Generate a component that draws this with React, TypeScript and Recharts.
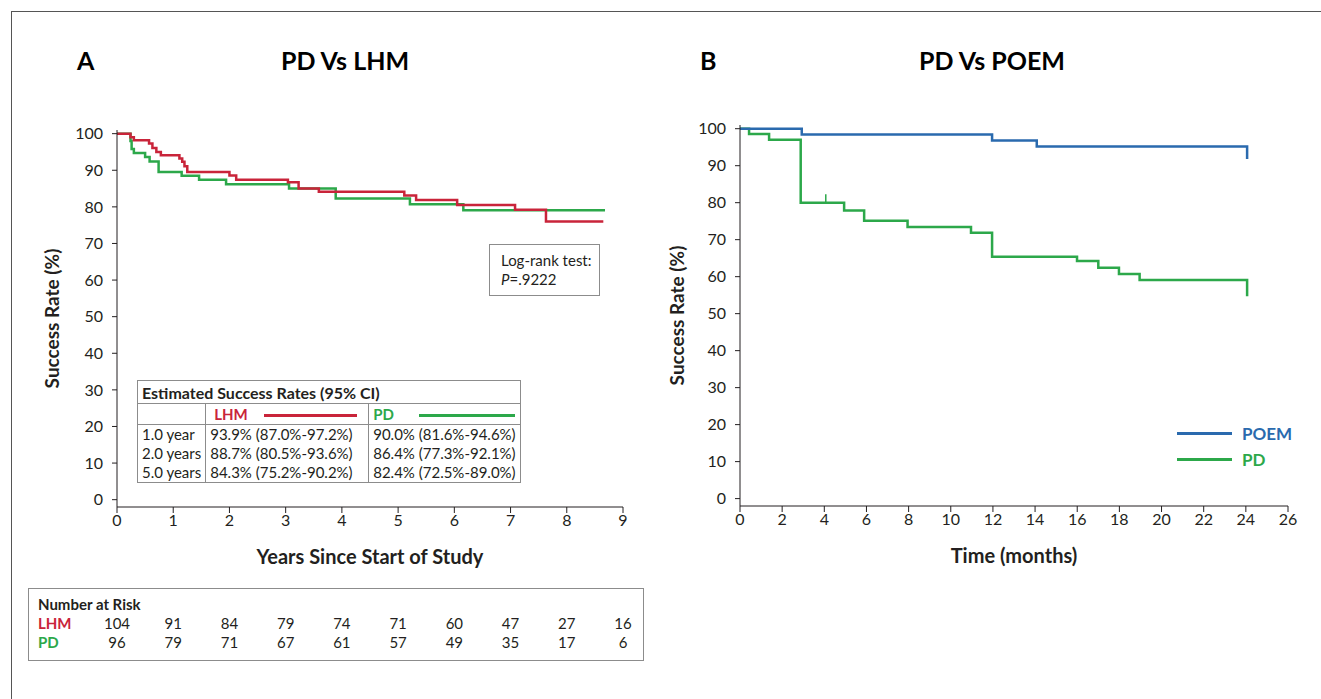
import { LineChart, Line, XAxis, YAxis } from 'recharts';

const RED = '#c9243a';
const GREEN = '#2ca84a';
const BLUE = '#2a6aae';
const INK = '#231f20';
const RULE = '#8c8c8c';
const FONT = 'Lato, "Open Sans", sans-serif';

// Panel A - Kaplan-Meier steps (years, success %)
const lhmYears = [0, 0.24, 0.3, 0.57, 0.63, 0.7, 0.78, 1.11, 1.16, 1.2, 1.25, 2.0, 2.12, 3.04, 3.23, 3.59, 5.11, 5.32, 6.05, 7.08, 7.63, 8.65];
const lhmRate = [100, 99, 98.2, 97.3, 96.1, 95, 94.1, 93.2, 92.3, 91.1, 89.5, 88.6, 87.4, 86.7, 85.0, 84.1, 83.1, 81.9, 80.5, 79.2, 76.0, 76.0];
const pdYearsA = [0, 0.24, 0.26, 0.3, 0.5, 0.58, 0.74, 1.15, 1.46, 1.94, 3.06, 3.89, 5.21, 6.16, 8.68];
const pdRateA = [100, 98, 95.8, 94.7, 93.6, 92.4, 89.5, 88.5, 87.4, 86.2, 85.0, 82.3, 80.7, 79.1, 79.1];

// Panel B - months, success %
const poemMonths = [0, 2.93, 11.96, 14.08, 24.06];
const poemRate = [100, 98.4, 96.8, 95.2, 91.8];
const pdMonthsB = [0, 0.43, 1.38, 2.88, 4.94, 5.89, 7.95, 10.96, 11.96, 15.99, 17.0, 17.98, 18.96, 24.06];
const pdRateB = [100, 98.6, 97.0, 80.0, 77.9, 75.1, 73.4, 71.9, 65.4, 64.2, 62.4, 60.7, 59.1, 54.7];
const censorMonths = [4.07, 4.07];
const censorRate = [80.0, 82.3];

const yearTicks = [0, 1, 2, 3, 4, 5, 6, 7, 8, 9];
const monthTicks = [0, 2, 4, 6, 8, 10, 12, 14, 16, 18, 20, 22, 24, 26];
const rateTicks = [0, 10, 20, 30, 40, 50, 60, 70, 80, 90, 100];

// Table of estimates
const estimateLabels = ['1.0 year', '2.0 years', '5.0 years'];
const lhmEstimates = ['93.9% (87.0%-97.2%)', '88.7% (80.5%-93.6%)', '84.3% (75.2%-90.2%)'];
const pdEstimates = ['90.0% (81.6%-94.6%)', '86.4% (77.3%-92.1%)', '82.4% (72.5%-89.0%)'];

// Number at risk
const lhmAtRisk = [104, 91, 84, 79, 74, 71, 60, 47, 27, 16];
const pdAtRisk = [96, 79, 71, 67, 61, 57, 49, 35, 17, 6];

const toPoints = (xs: number[], ys: number[]) => xs.map((x, i) => ({ x, y: ys[i] }));

const tickStyle = { fill: INK, fontSize: 16, fontFamily: FONT };
const axisTitle = { fill: INK, fontSize: 20, fontWeight: 700, fontFamily: FONT, textAnchor: 'middle' as const };

const A_LEFT = 117;
const A_RIGHT = 623;

function PanelA() {
  return (
    <div style={{ position: 'absolute', left: 0, top: 0 }}>
      <LineChart width={660} height={600} margin={{ top: 130, right: 660 - A_RIGHT, bottom: 36, left: A_LEFT - 60 }}>
        <XAxis
          type="number"
          dataKey="x"
          domain={[0, 9]}
          ticks={yearTicks}
          stroke={INK}
          tickSize={6}
          tickMargin={2}
          tick={tickStyle}
          height={57}
          label={{ value: 'Years Since Start of Study', position: 'insideBottom', offset: 0, style: axisTitle }}
        />
        <YAxis
          type="number"
          domain={[-2, 101]}
          ticks={rateTicks}
          stroke={INK}
          tickSize={5}
          tickMargin={9}
          tick={tickStyle}
          width={60}
          label={{ value: 'Success Rate (%)', angle: -90, position: 'insideLeft', offset: -5, style: { ...axisTitle, fontSize: 19 } }}
        />
        <Line data={toPoints(pdYearsA, pdRateA)} dataKey="y" type="stepAfter" stroke={GREEN} strokeWidth={2.5} dot={false} isAnimationActive={false} />
        <Line data={toPoints(lhmYears, lhmRate)} dataKey="y" type="stepAfter" stroke={RED} strokeWidth={2.5} dot={false} isAnimationActive={false} />
      </LineChart>
    </div>
  );
}

function PanelB() {
  return (
    <div style={{ position: 'absolute', left: 660, top: 0 }}>
      <LineChart width={661} height={600} margin={{ top: 125, right: 33, bottom: 37, left: 20 }}>
        <XAxis
          type="number"
          dataKey="x"
          domain={[0, 26]}
          ticks={monthTicks}
          stroke={INK}
          tickSize={6}
          tickMargin={2}
          tick={tickStyle}
          height={57}
          label={{ value: 'Time (months)', position: 'insideBottom', offset: 0, style: axisTitle }}
        />
        <YAxis
          type="number"
          domain={[-2, 101]}
          ticks={rateTicks}
          stroke={INK}
          tickSize={5}
          tickMargin={9}
          tick={tickStyle}
          width={60}
          label={{ value: 'Success Rate (%)', angle: -90, position: 'insideLeft', offset: -3, style: { ...axisTitle, fontSize: 19 } }}
        />
        <Line data={toPoints(pdMonthsB, pdRateB)} dataKey="y" type="stepAfter" stroke={GREEN} strokeWidth={2.5} dot={false} isAnimationActive={false} />
        <Line data={toPoints(censorMonths, censorRate)} dataKey="y" type="linear" stroke={GREEN} strokeWidth={1.5} dot={false} isAnimationActive={false} />
        <Line data={toPoints(poemMonths, poemRate)} dataKey="y" type="stepAfter" stroke={BLUE} strokeWidth={2.5} dot={false} isAnimationActive={false} />
      </LineChart>
    </div>
  );
}

const cell = { padding: '0 4px', whiteSpace: 'nowrap' as const, lineHeight: '19px' };

function EstimateTable() {
  return (
    <table
      style={{
        position: 'absolute', left: 137, top: 380, width: 384, borderCollapse: 'collapse',
        fontFamily: FONT, fontSize: 15, color: INK, background: '#fff', border: `1px solid ${RULE}`,
      }}
    >
      <tbody>
        <tr style={{ height: 23, borderBottom: `1px solid ${RULE}` }}>
          <td colSpan={3} style={{ ...cell, fontWeight: 700, fontSize: 16 }}>Estimated Success Rates (95% CI)</td>
        </tr>
        <tr style={{ height: 21, borderBottom: `1px solid ${RULE}` }}>
          <td style={{ ...cell, width: 58, borderRight: `1px solid ${RULE}` }}></td>
          <td style={{ ...cell, width: 154, borderRight: `1px solid ${RULE}`, color: RED, fontWeight: 700 }}>
            <span style={{ display: 'inline-block', width: 50, paddingLeft: 4 }}>LHM</span>
            <span style={{ display: 'inline-block', width: 93, height: 2.5, background: RED, verticalAlign: 'middle' }} />
          </td>
          <td style={{ ...cell, color: GREEN, fontWeight: 700 }}>
            <span style={{ display: 'inline-block', width: 46 }}>PD</span>
            <span style={{ display: 'inline-block', width: 96, height: 2.5, background: GREEN, verticalAlign: 'middle' }} />
          </td>
        </tr>
        {estimateLabels.map((label, i) => (
          <tr key={label}>
            <td style={{ ...cell, borderRight: `1px solid ${RULE}` }}>{label}</td>
            <td style={{ ...cell, borderRight: `1px solid ${RULE}` }}>{lhmEstimates[i]}</td>
            <td style={cell}>{pdEstimates[i]}</td>
          </tr>
        ))}
      </tbody>
    </table>
  );
}

function RiskTable() {
  const step = (A_RIGHT - A_LEFT) / (yearTicks.length - 1);
  const row = (label: string, color: string, values: number[], top: number) => (
    <>
      <div style={{ position: 'absolute', left: 38, top, color, fontWeight: 700 }}>{label}</div>
      {values.map((v, i) => (
        <div key={label + i} style={{ position: 'absolute', left: A_LEFT + i * step - 20, width: 40, top, textAlign: 'center' }}>{v}</div>
      ))}
    </>
  );
  return (
    <div style={{ position: 'absolute', left: 0, top: 0, width: 1321, fontFamily: FONT, fontSize: 15, color: INK, lineHeight: '19px', whiteSpace: 'nowrap' }}>
      <div style={{ position: 'absolute', left: 28, top: 588, width: 614, height: 71, border: `1px solid ${RULE}` }} />
      <div style={{ position: 'absolute', left: 38, top: 595, fontWeight: 700 }}>Number at Risk</div>
      {row('LHM', RED, lhmAtRisk, 614)}
      {row('PD', GREEN, pdAtRisk, 633)}
    </div>
  );
}

function BLegend() {
  const item = (name: string, color: string, top: number) => (
    <div style={{ position: 'absolute', left: 1177, top, display: 'flex', alignItems: 'center' }}>
      <span style={{ display: 'inline-block', width: 55, height: 2.5, background: color }} />
      <span style={{ marginLeft: 10, color, fontWeight: 700, fontSize: 17 }}>{name}</span>
    </div>
  );
  return (
    <div style={{ fontFamily: FONT }}>
      {item('POEM', BLUE, 423)}
      {item('PD', GREEN, 449)}
    </div>
  );
}

export default function App() {
  const title = { position: 'absolute' as const, top: 44, fontFamily: FONT, fontWeight: 700, fontSize: 25, color: '#000', lineHeight: '32px' };
  return (
    <div style={{ position: 'absolute', left: 0, top: 0, width: 1321, height: 699, overflow: 'hidden', background: '#fff' }}>
      <div style={{ position: 'absolute', left: 11, top: 11, width: 2000, height: 2000, borderTop: '1px solid #555', borderLeft: '1px solid #555' }} />
      <div style={{ ...title, left: 77 }}>A</div>
      <div style={{ ...title, left: 245, width: 200, textAlign: 'center' }}>PD Vs LHM</div>
      <div style={{ ...title, left: 700 }}>B</div>
      <div style={{ ...title, left: 892, width: 200, textAlign: 'center' }}>PD Vs POEM</div>
      <PanelA />
      <PanelB />
      <EstimateTable />
      <div
        style={{
          position: 'absolute', left: 489, top: 244, width: 111, height: 52, boxSizing: 'border-box',
          border: `1px solid ${RULE}`, padding: '6px 0 0 11px', fontFamily: FONT, fontSize: 15, color: INK, lineHeight: '19px', background: '#fff',
        }}
      >
        <div>Log-rank test:</div>
        <div><i>P</i>=.9222</div>
      </div>
      <RiskTable />
      <BLegend />
    </div>
  );
}
